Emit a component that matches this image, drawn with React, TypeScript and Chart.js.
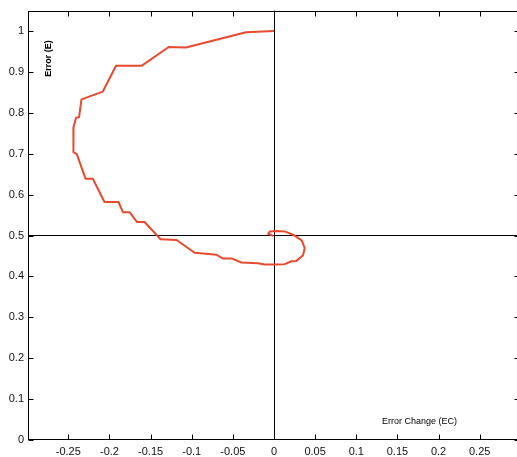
import React, { useEffect, useRef } from "react";
import { Chart, registerables } from "chart.js";

Chart.register(...registerables);

// Phase-plane trajectory: Error Change (EC) vs Error (E)
const EC = [
  0.0, -0.034, -0.107, -0.128, -0.161, -0.192, -0.208, -0.234, -0.237, -0.2406,
  -0.2437, -0.2443, -0.2433, -0.2397, -0.2291, -0.2202, -0.206, -0.189, -0.1837, -0.1755,
  -0.1664, -0.1573, -0.1378, -0.1184, -0.0965, -0.0698, -0.0624, -0.0515, -0.0397, -0.0195,
  -0.0113, 0.0009, 0.013, 0.0212, 0.0273, 0.0353, 0.0373, 0.0337, 0.0231, 0.013,
  0.0033, -0.0052, -0.0071, -0.001,
];
const E = [
  1.0, 0.997, 0.96, 0.961, 0.915, 0.915, 0.852, 0.833, 0.789, 0.788,
  0.765, 0.744, 0.704, 0.699, 0.639, 0.639, 0.582, 0.582, 0.557, 0.557,
  0.533, 0.533, 0.491, 0.489, 0.458, 0.453, 0.444, 0.444, 0.434, 0.432,
  0.429, 0.429, 0.43, 0.437, 0.438, 0.452, 0.469, 0.488, 0.502, 0.51,
  0.511, 0.51, 0.504, 0.499,
];

const X_TICKS = [-0.25, -0.2, -0.15, -0.1, -0.05, 0, 0.05, 0.1, 0.15, 0.2, 0.25];
const X_TICK_LABELS = ["-0.25", "-0.2", "-0.15", "-0.1", "-0.05", "0", "0.05", "0.1", "0.15", "0.2", "0.25"];
const Y_TICKS = [0, 0.1, 0.2, 0.3, 0.4, 0.5, 0.6, 0.7, 0.8, 0.9, 1];
const Y_TICK_LABELS = ["0", "0.1", "0.2", "0.3", "0.4", "0.5", "0.6", "0.7", "0.8", "0.9", "1"];

const X_MIN = -0.299;
const X_MAX = 0.299;
const Y_MIN = 0;
const Y_MAX = 1.05;

const EC_REF = 0;
const E_REF = 0.5;

const X_TITLE = "Error Change (EC)";
const Y_TITLE = "Error (E)";

const FONT = '"Liberation Sans", Arial, Helvetica, sans-serif';

const framePlugin = {
  id: "frame",
  afterDraw(chart: any) {
    const { ctx, chartArea: a, scales } = chart;
    const x = scales.x;
    const y = scales.y;
    ctx.save();
    ctx.strokeStyle = "#000";
    ctx.lineWidth = 1;
    const L = Math.round(a.left) + 0.5;
    const R = Math.round(a.right) - 0.5;
    const T = Math.round(a.top) + 0.5;
    const B = Math.round(a.bottom) - 0.5;
    ctx.strokeRect(L, T, R - L, B - T);
    const tl = 5;
    ctx.beginPath();
    X_TICKS.forEach((v) => {
      const px = Math.round(x.getPixelForValue(v)) + 0.5;
      ctx.moveTo(px, B);
      ctx.lineTo(px, B - tl);
      ctx.moveTo(px, T);
      ctx.lineTo(px, T + tl);
    });
    Y_TICKS.forEach((v) => {
      const py = Math.round(y.getPixelForValue(v)) + 0.5;
      ctx.moveTo(L, py);
      ctx.lineTo(L + tl, py);
      ctx.moveTo(R, py);
      ctx.lineTo(R - tl, py);
    });
    ctx.stroke();

    ctx.fillStyle = "#000";
    ctx.textAlign = "center";
    ctx.textBaseline = "middle";
    ctx.font = `9px ${FONT}`;
    ctx.fillText(X_TITLE, a.right - 100.5, a.bottom - 18.5);

    ctx.translate(a.left + 20.5, a.top + 48);
    ctx.rotate(-Math.PI / 2);
    ctx.font = `bold 9px ${FONT}`;
    ctx.fillText(Y_TITLE, 0, 0);
    ctx.restore();
  },
};

export default function App() {
  const ref = useRef<HTMLCanvasElement | null>(null);

  useEffect(() => {
    if (!ref.current) return;
    const points = EC.map((v, i) => ({ x: v, y: E[i] }));
    const chart = new Chart(ref.current, {
      type: "scatter",
      data: {
        datasets: [
          {
            data: points,
            showLine: true,
            borderColor: "#e84a2e",
            backgroundColor: "#e84a2e",
            borderWidth: 2,
            pointRadius: 0,
            tension: 0,
            borderJoinStyle: "round",
          } as any,
        ],
      },
      options: {
        responsive: false,
        animation: false,
        events: [],
        layout: { padding: { top: 10, right: 1, bottom: 0, left: 0 } },
        plugins: {
          legend: { display: false },
          tooltip: { enabled: false },
        },
        scales: {
          x: {
            type: "linear",
            min: X_MIN,
            max: X_MAX,
            afterBuildTicks: (s: any) => {
              s.ticks = X_TICKS.map((value) => ({ value }));
            },
            afterFit: (s: any) => {
              s.height = 17;
            },
            border: { display: false },
            grid: {
              drawTicks: false,
              color: (c: any) =>
                c.tick && Math.abs(c.tick.value - EC_REF) < 1e-9 ? "#000" : "rgba(0,0,0,0)",
              lineWidth: 1,
            },
            ticks: {
              autoSkip: false,
              maxRotation: 0,
              padding: 5,
              color: "#111",
              font: { family: FONT, size: 11 },
              callback: (_v: any, i: number) => X_TICK_LABELS[i],
            },
          },
          y: {
            type: "linear",
            min: Y_MIN,
            max: Y_MAX,
            afterBuildTicks: (s: any) => {
              s.ticks = Y_TICKS.map((value) => ({ value }));
            },
            afterFit: (s: any) => {
              s.width = 28;
            },
            border: { display: false },
            grid: {
              drawTicks: false,
              color: (c: any) =>
                c.tick && Math.abs(c.tick.value - E_REF) < 1e-9 ? "#000" : "rgba(0,0,0,0)",
              lineWidth: 1,
            },
            ticks: {
              autoSkip: false,
              padding: 4,
              color: "#111",
              font: { family: FONT, size: 11 },
              callback: (_v: any, i: number) => Y_TICK_LABELS[i],
            },
          },
        },
      },
      plugins: [framePlugin],
    });
    return () => chart.destroy();
  }, []);

  return (
    <div
      style={{
        position: "absolute",
        left: 0,
        top: 0,
        width: 517,
        height: 457,
        overflow: "hidden",
        background: "#fff",
      }}
    >
      <canvas ref={ref} width={521} height={457} style={{ display: "block" }} />
    </div>
  );
}
